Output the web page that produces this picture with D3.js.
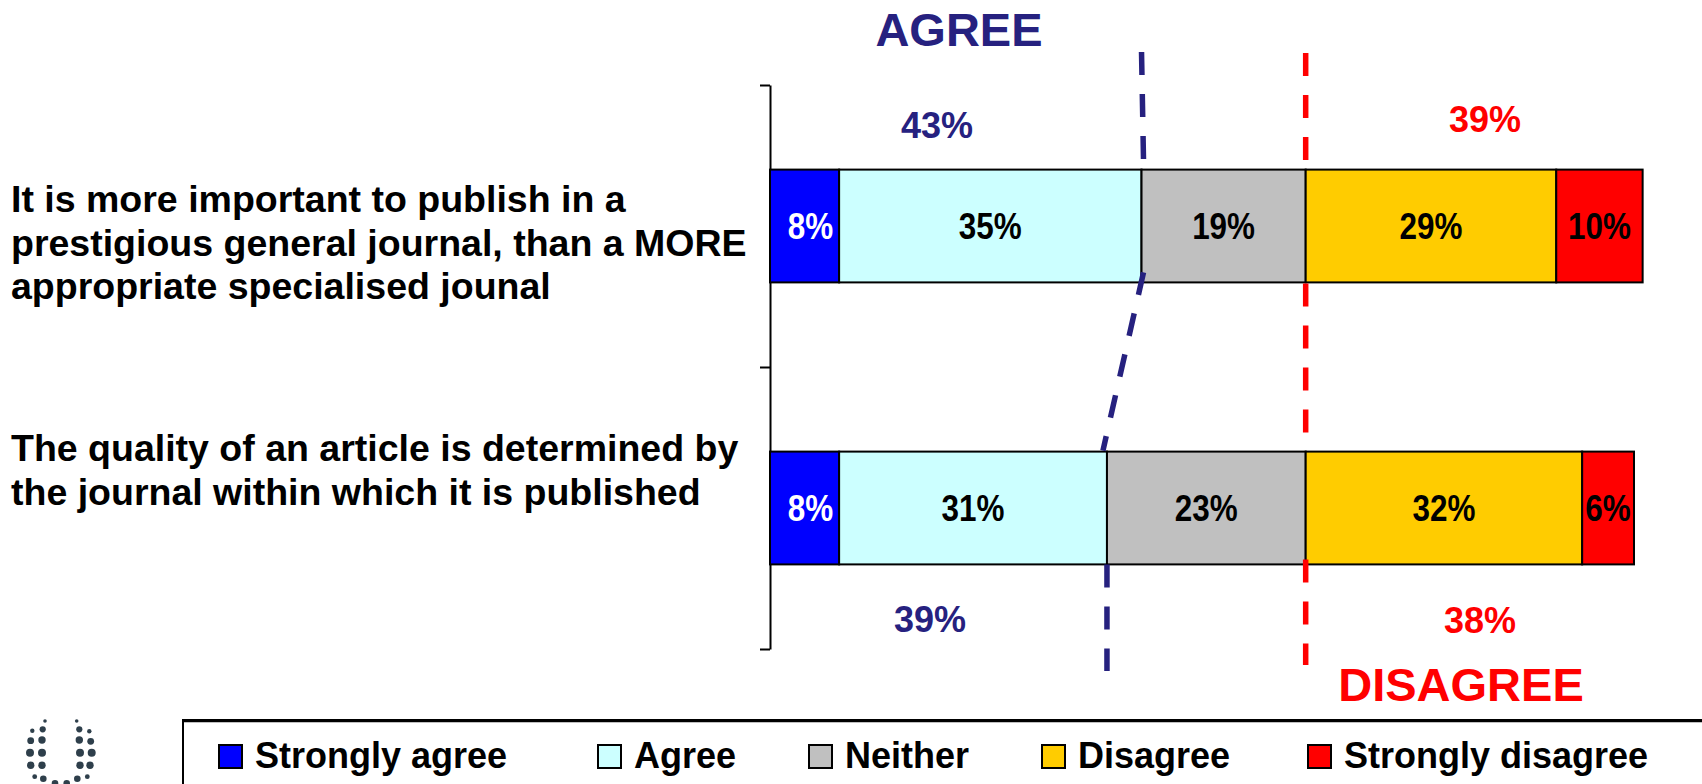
<!DOCTYPE html>
<html>
<head>
<meta charset="utf-8">
<script src="https://cdn.jsdelivr.net/npm/d3@7"></script>
<style>
  html, body { margin: 0; padding: 0; background: #ffffff; }
  svg { display: block; font-family: "Liberation Sans", Arial, sans-serif; font-weight: bold; }
</style>
</head>
<body>
<svg id="chart" width="1702" height="784"></svg>
<script>
// ---------- data ----------
const categories = [
  "It is more important to publish in a prestigious general journal, than a MORE appropriate specialised jounal",
  "The quality of an article is determined by the journal within which it is published"
];
const categoryLines = [
  ["It is more important to publish in a", "prestigious general journal, than a MORE", "appropriate specialised jounal"],
  ["The quality of an article is determined by", "the journal within which it is published"]
];
const seriesNames = ["Strongly agree", "Agree", "Neither", "Disagree", "Strongly disagree"];
const stronglyAgree    = [8, 8];
const agree            = [35, 31];
const neither          = [19, 23];
const disagree         = [29, 32];
const stronglyDisagree = [10, 6];
const seriesColors = ["#0000FF", "#CCFFFF", "#C0C0C0", "#FFCC00", "#FF0000"];
const labelColors  = ["#FFFFFF", "#000000", "#000000", "#000000", "#000000"];
const agreeColor = "#26217F";
const disagreeColor = "#FF0000";

const seriesValues = [stronglyAgree, agree, neither, disagree, stronglyDisagree];
const agreeTotals = categories.map((c, i) => stronglyAgree[i] + agree[i]);
const disagreeTotals = categories.map((c, i) => disagree[i] + stronglyDisagree[i]);
const neutralEnd = categories.map((c, i) => agreeTotals[i] + neither[i]);

// ---------- scales ----------
const svg = d3.select("#chart");
const x = d3.scaleLinear().domain([0, 100]).range([770, 1634]);
const y = d3.scaleBand().domain(categories).range([85, 649]).paddingInner(0.6).paddingOuter(0.3);
const yIdx = d3.scaleLinear().domain([0, categories.length]).range([85, 649]);

// stacked data
const stackRows = categories.map((c, i) => {
  const row = { cat: c };
  seriesNames.forEach((s, j) => row[s] = seriesValues[j][i]);
  return row;
});
const stacked = d3.stack().keys(seriesNames)(stackRows);

// ---------- axis ----------
const axis = d3.axisLeft(yIdx).tickValues(d3.range(categories.length + 1)).tickFormat("").tickSize(10).tickSizeOuter(0);
const axG = svg.append("g").attr("transform", `translate(${x(0)},0)`).call(axis);
axG.selectAll("path, line").attr("stroke", "#000").attr("stroke-width", 2);

// ---------- bars ----------
const layers = svg.append("g").selectAll("g").data(stacked).join("g")
  .attr("fill", (d, i) => seriesColors[i]);
layers.selectAll("rect").data(d => d).join("rect")
  .attr("x", d => x(d[0]))
  .attr("y", d => y(d.data.cat))
  .attr("width", d => x(d[1]) - x(d[0]))
  .attr("height", y.bandwidth())
  .attr("stroke", "#000")
  .attr("stroke-width", 2);

// bar labels
stacked.forEach((layer, i) => {
  svg.append("g").selectAll("text").data(layer).join("text")
    .attr("transform", d => `translate(${(x(d[0]) + x(d[1])) / 2 + (i === 0 ? 6 : 0)},${y(d.data.cat) + y.bandwidth() / 2 + 13}) scale(0.85,1)`)
    .attr("text-anchor", "middle")
    .attr("font-size", 37)
    .attr("fill", labelColors[i])
    .text(d => (d[1] - d[0]) + "%");
});

// ---------- dashed divider lines ----------
const b0Top = y(categories[0]), b0Bot = y(categories[0]) + y.bandwidth();
const b1Top = y(categories[1]), b1Bot = y(categories[1]) + y.bandwidth();
const line = d3.line();
const blueSegs = [
  [[x(agreeTotals[0]), 52], [x(agreeTotals[0]) + 2, b0Top - 9]],
  [[x(agreeTotals[0]) + 2, b0Bot - 10], [x(agreeTotals[1]) - 4, b1Top - 1]],
  [[x(agreeTotals[1]), b1Bot], [x(agreeTotals[1]), 671]]
];
const redSegs = [
  [[x(neutralEnd[0]), 53], [x(neutralEnd[0]), b0Top - 9]],
  [[x(neutralEnd[0]), b0Bot + 1], [x(neutralEnd[1]), b1Top - 15]],
  [[x(neutralEnd[1]), b1Bot - 5], [x(neutralEnd[1]), 665]]
];
svg.append("g").selectAll("path").data(blueSegs).join("path")
  .attr("d", line).attr("fill", "none").attr("stroke", agreeColor)
  .attr("stroke-width", 5.5).attr("stroke-dasharray", "23,19");
svg.append("g").selectAll("path").data(redSegs).join("path")
  .attr("d", line).attr("fill", "none").attr("stroke", disagreeColor)
  .attr("stroke-width", 5.5).attr("stroke-dasharray", "23,19");

// ---------- totals & headings ----------
svg.append("text").attr("x", 959).attr("y", 46).attr("text-anchor", "middle")
  .attr("font-size", 47).attr("fill", agreeColor).text("AGREE");
svg.append("text").attr("x", 1461).attr("y", 701).attr("text-anchor", "middle")
  .attr("font-size", 47).attr("fill", disagreeColor).text("DISAGREE");

const totalPos = [
  { agreeX: 937, disX: 1485, agreeY: 138, disY: 132 },
  { agreeX: 930, disX: 1480, agreeY: 632, disY: 633 }
];
categories.forEach((c, i) => {
  svg.append("text").attr("x", totalPos[i].agreeX).attr("y", totalPos[i].agreeY)
    .attr("text-anchor", "middle").attr("font-size", 36).attr("fill", agreeColor)
    .text(agreeTotals[i] + "%");
  svg.append("text").attr("x", totalPos[i].disX).attr("y", totalPos[i].disY)
    .attr("text-anchor", "middle").attr("font-size", 36).attr("fill", disagreeColor)
    .text(disagreeTotals[i] + "%");
});

// ---------- category labels ----------
const labelBaseline = [212, 461];
categoryLines.forEach((lines, i) => {
  const t = svg.append("text").attr("font-size", 37.5).attr("fill", "#000");
  lines.forEach((ln, k) => {
    t.append("tspan").attr("x", 11).attr("y", labelBaseline[i] + k * 43.5).text(ln);
  });
});

// ---------- legend ----------
svg.append("rect").attr("x", 183).attr("y", 720).attr("width", 1600).attr("height", 200)
  .attr("fill", "#fff").attr("stroke", "#000").attr("stroke-width", 2);
svg.append("line").attr("x1", 183).attr("x2", 1702).attr("y1", 721.5).attr("y2", 721.5)
  .attr("stroke", "#000").attr("stroke-width", 1.5);
const legendX = [219, 598, 809, 1042, 1308];
const lg = svg.append("g").selectAll("g").data(seriesNames).join("g")
  .attr("transform", (d, i) => `translate(${legendX[i]},745)`);
lg.append("rect").attr("width", 23).attr("height", 23)
  .attr("fill", (d, i) => seriesColors[i]).attr("stroke", "#000").attr("stroke-width", 2);
lg.append("text").attr("x", 36).attr("y", 23).attr("font-size", 36).attr("fill", "#000").text(d => d);

// ---------- logo (decorative dotted U) ----------
const logoDots = [
  [45,721,1.8],[32.3,730.7,2.2],[42.7,729.3,3.1],[30.7,740.7,3.4],[42,740,3.7],
  [30,752.7,4],[42,752.7,4],[30.7,765.3,3.7],[42,765.3,3.7],[34.7,776.7,2.4],[43.3,778.7,3.3],
  [55,783.3,3.3],[66.7,783.3,3.3],
  [76.7,721,1.8],[79.3,729.3,3.1],[89.3,731.3,2.2],[79.3,740,3.7],[90.7,741.3,3.4],
  [80,752.7,4],[91.7,752.7,4],[80,765.3,3.7],[90,765.3,3.7],[77.3,778.7,3.3],[87.3,776.7,2.4]
];
svg.append("g").selectAll("circle").data(logoDots).join("circle")
  .attr("cx", d => d[0]).attr("cy", d => d[1]).attr("r", d => d[2]).attr("fill", "#2E3F4B");
</script>
</body>
</html>
